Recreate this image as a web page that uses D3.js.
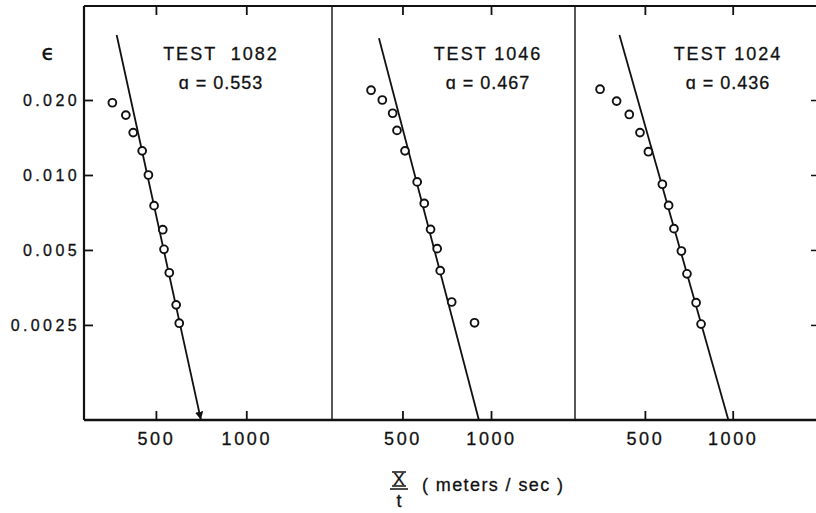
<!DOCTYPE html>
<html>
<head>
<meta charset="utf-8">
<script src="https://cdn.jsdelivr.net/npm/d3@7"></script>
<style>
  body { margin: 0; background: #fff; }
  text { font-family: "Liberation Sans", Arial, sans-serif; fill: #111; }
</style>
</head>
<body>
<script>
// data
var tests = ["TEST  1082", "TEST 1046", "TEST 1024"];
var alphas = ["0.553", "0.467", "0.436"];
var xTicks = [500, 1000];
var yTicks = [0.020, 0.010, 0.005, 0.0025];
var yTickLabels = ["0.020", "0.010", "0.005", "0.0025"];

// x / t (m/s) and strain, one pair of arrays per test
var speed1082 = [358, 397, 420, 450, 472, 493, 527, 532, 554, 584, 598];
var strain1082 = [0.0195, 0.0174, 0.0148, 0.0125, 0.0100, 0.00753, 0.00603, 0.00503, 0.00405, 0.00301, 0.00254];
var speed1046 = [391, 427, 463, 479, 510, 561, 593, 623, 656, 672, 735, 879];
var strain1046 = [0.0219, 0.0200, 0.0177, 0.0151, 0.0125, 0.00938, 0.00769, 0.00605, 0.00506, 0.00413, 0.00309, 0.00255];
var speed1024 = [351, 400, 442, 481, 514, 574, 603, 629, 667, 697, 749, 779];
var strain1024 = [0.0221, 0.0198, 0.0175, 0.0148, 0.0124, 0.00918, 0.00755, 0.00609, 0.00495, 0.00401, 0.00307, 0.00252];

// fitted lines: [speed, strain] at both ends
var fit1082 = [[370, 0.0365], [706, 0.00104]];
var fit1046 = [[416, 0.0354], [909, 0.00104]];
var fit1024 = [[409, 0.0365], [966, 0.00104]];

var speeds = [speed1082, speed1046, speed1024];
var strains = [strain1082, strain1046, strain1024];
var fits = [fit1082, fit1046, fit1024];

//layout
var width = 816, height = 513;
var edges = [84, 332, 575, 816];
var yTop = 6, yBottom = 420;
var labelDx = [137, 156, 153];

var svg = d3.select("body").append("svg")
    .attr("width", width)
    .attr("height", height);

// arrow at the end of the first fit line
svg.append("defs").append("marker")
    .attr("id", "arrow")
    .attr("viewBox", "0 0 10 10")
    .attr("refX", 10).attr("refY", 5)
    .attr("markerWidth", 4.5).attr("markerHeight", 4.5)
    .attr("orient", "auto")
    .append("path")
    .attr("d", "M0,0 L10,5 L0,10 Z")
    .style("fill", "#111");

var y = d3.scaleLog()
    .domain([0.001038, 0.0477])
    .range([yBottom, yTop]);

//frame
svg.append("line")
    .attr("x1", edges[0]).attr("x2", width)
    .attr("y1", yTop).attr("y2", yTop)
    .style("stroke", "#111").style("stroke-width", 2);
svg.append("line")
    .attr("x1", edges[0]).attr("x2", width)
    .attr("y1", yBottom).attr("y2", yBottom)
    .style("stroke", "#111").style("stroke-width", 2.4);
svg.append("line")
    .attr("x1", edges[0]).attr("x2", edges[0])
    .attr("y1", yTop).attr("y2", yBottom)
    .style("stroke", "#111").style("stroke-width", 2.2);
[edges[1], edges[2]].forEach(function(e) {
    svg.append("line")
        .attr("x1", e).attr("x2", e)
        .attr("y1", yTop).attr("y2", yBottom)
        .style("stroke", "#111").style("stroke-width", 1.4);
});

//left axis with labels
var yAxis = svg.append("g")
    .attr("transform", "translate(" + edges[0] + ",0)")
    .call(d3.axisLeft(y)
        .tickValues(yTicks)
        .tickSizeInner(-9)
        .tickSizeOuter(0)
        .tickPadding(4)
        .tickFormat(function(d, i) { return yTickLabels[i]; }));
yAxis.select(".domain").remove();
yAxis.selectAll("line").style("stroke", "#111").style("stroke-width", 1.8);
yAxis.selectAll("text")
    .style("font-size", "16px")
    .style("letter-spacing", "3.4px")
    .style("font-family", "Liberation Sans")
    .style("stroke", "#111").style("stroke-width", 0.3)
    .style("fill", "#111");

//right axis, ticks only
var yAxisR = svg.append("g")
    .attr("transform", "translate(" + width + ",0)")
    .call(d3.axisLeft(y).tickValues(yTicks).tickSizeInner(5).tickSizeOuter(0).tickFormat(""));
yAxisR.select(".domain").remove();
yAxisR.selectAll("line").style("stroke", "#111").style("stroke-width", 1.5);

svg.append("text")
    .attr("x", 48).attr("y", 60)
    .attr("text-anchor", "middle")
    .style("font-family", "DejaVu Sans")
    .style("font-size", "21px")
    .style("stroke", "#111").style("stroke-width", 0.4)
    .text("ϵ");

//panels
var drawPanel = function(i) {
    var x = d3.scaleLog()
        .domain([288, 1930])
        .range([edges[i], edges[i + 1]]);

    var xb = svg.append("g")
        .attr("transform", "translate(0," + yBottom + ")")
        .call(d3.axisBottom(x).tickValues(xTicks).tickSizeInner(-9).tickSizeOuter(0)
            .tickPadding(12).tickFormat(d3.format("d")));
    xb.select(".domain").remove();
    xb.selectAll("line").style("stroke", "#111").style("stroke-width", 1.8);
    xb.selectAll("text")
        .style("font-size", "18px")
        .style("letter-spacing", "2.6px")
        .style("font-family", "Liberation Sans")
        .style("stroke", "#111").style("stroke-width", 0.3)
        .style("fill", "#111");

    var xt = svg.append("g")
        .attr("transform", "translate(0," + yTop + ")")
        .call(d3.axisTop(x).tickValues(xTicks).tickSizeInner(-9).tickSizeOuter(0).tickFormat(""));
    xt.select(".domain").remove();
    xt.selectAll("line").style("stroke", "#111").style("stroke-width", 1.8);

    var line = d3.line()
        .x(function(d) { return x(d[0]); })
        .y(function(d) { return y(d[1]); });

    var fitPath = svg.append("path")
        .datum(fits[i])
        .attr("d", line)
        .style("fill", "none")
        .style("stroke", "#111")
        .style("stroke-width", 1.8);
    if (i == 0) fitPath.attr("marker-end", "url(#arrow)");

    var pts = speeds[i].map(function(s, j) { return [s, strains[i][j]]; });
    svg.selectAll(".pt" + i)
        .data(pts)
        .enter().append("circle")
        .attr("class", "pt" + i)
        .attr("cx", function(d) { return x(d[0]); })
        .attr("cy", function(d) { return y(d[1]); })
        .attr("r", 3.9)
        .style("fill", "#fff")
        .style("stroke", "#111")
        .style("stroke-width", 1.9);

    var cx = edges[i] + labelDx[i];
    svg.append("text")
        .attr("x", cx).attr("y", 60)
        .attr("text-anchor", "middle")
        .style("font-size", "18px")
        .style("letter-spacing", "2px")
        .style("white-space", "pre")
        .style("stroke", "#111").style("stroke-width", 0.3)
        .text(tests[i]);
    svg.append("text")
        .attr("x", cx).attr("y", 89)
        .attr("text-anchor", "middle")
        .style("font-size", "18px")
        .style("letter-spacing", "1px")
        .style("white-space", "pre")
        .style("stroke", "#111").style("stroke-width", 0.3)
        .text("ɑ = " + alphas[i]);
}

for (var i = 0; i < 3; i++) drawPanel(i);

//axis title: X over t
var tx = 399;
svg.append("text")
    .attr("x", tx).attr("y", 485)
    .attr("text-anchor", "middle")
    .style("font-size", "17px")
    .style("stroke", "#111").style("stroke-width", 0.3)
    .text("X");
[472, 486, 489].forEach(function(yy, k) {
    var half = k == 2 ? 9 : 7;
    svg.append("line")
        .attr("x1", tx - half).attr("x2", tx + half)
        .attr("y1", yy).attr("y2", yy)
        .style("stroke", "#111").style("stroke-width", 1.5);
});
svg.append("text")
    .attr("x", tx).attr("y", 507)
    .attr("text-anchor", "middle")
    .style("font-size", "18px")
    .style("stroke", "#111").style("stroke-width", 0.3)
    .text("t");
svg.append("text")
    .attr("x", 422).attr("y", 491)
    .style("font-size", "18px")
    .style("letter-spacing", "1.4px")
    .style("white-space", "pre")
    .style("stroke", "#111").style("stroke-width", 0.3)
    .text("( meters / sec )");
</script>
</body>
</html>
